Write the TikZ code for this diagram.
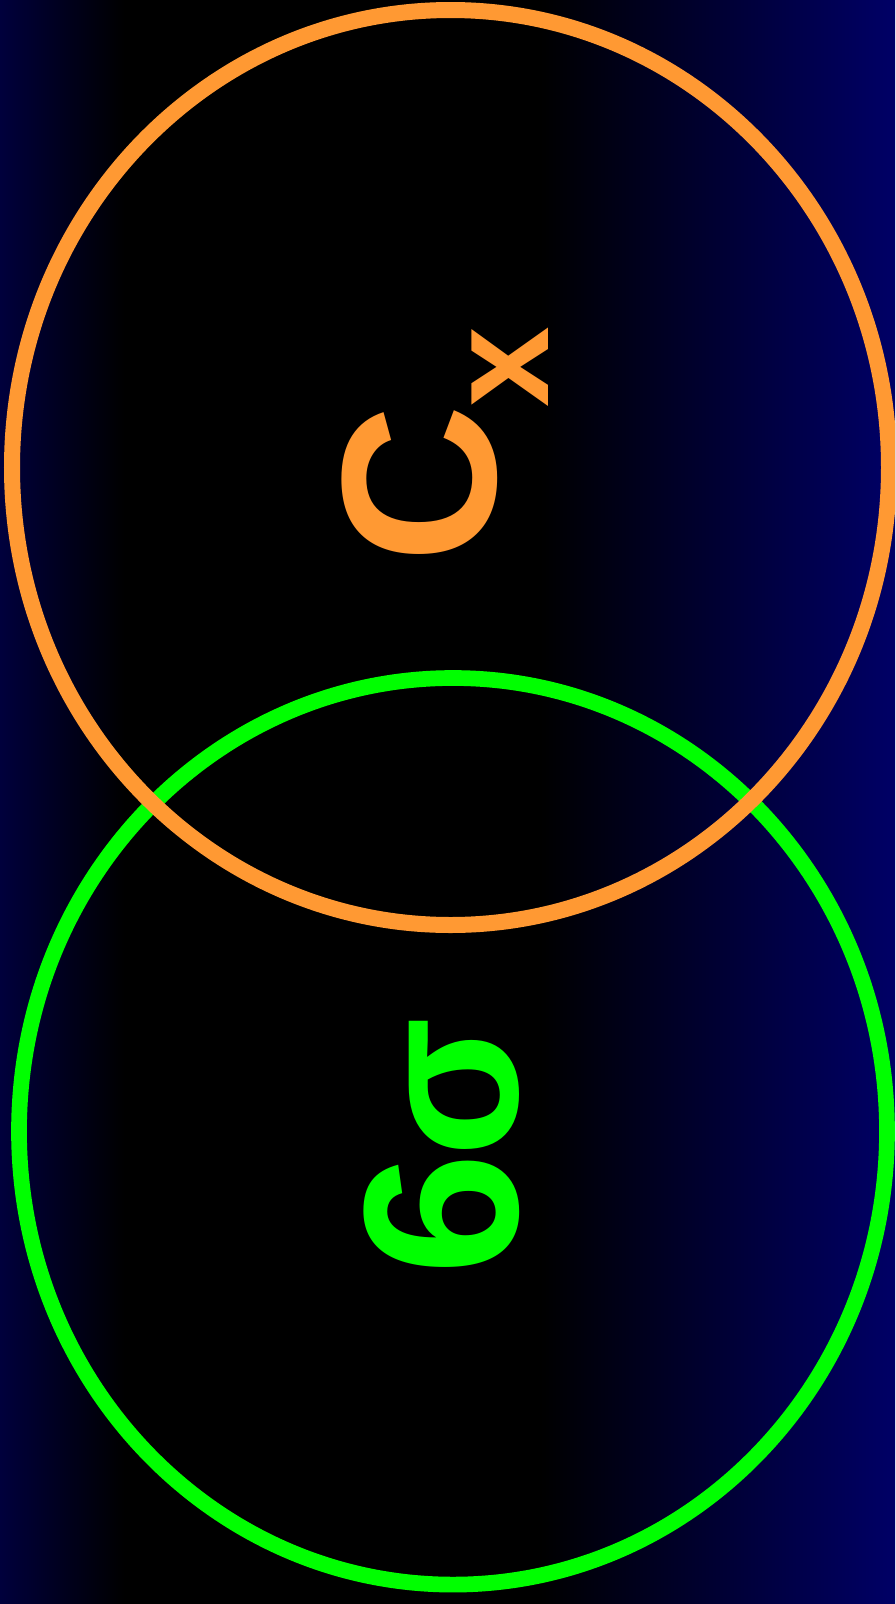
\documentclass[tikz,border=0pt]{standalone}
\usepackage{fontspec}
\setmainfont{Liberation Sans}
\definecolor{bgL}{RGB}{0,0,60}
\definecolor{bgR}{RGB}{0,0,102}
\definecolor{ringO}{RGB}{255,153,51}
\definecolor{ringG}{RGB}{0,255,0}
\tikzset{
  ringo/.style={draw=ringO, line width=16pt},
  ringg/.style={draw=ringG, line width=15.7pt},
  rtxt/.style={rotate=90, anchor=base west, inner sep=0pt}
}
\begin{document}
\begin{tikzpicture}[x=1pt,y=1pt]
\useasboundingbox (0,0) rectangle (895,-1604);
\clip (0,0) rectangle (895,-1604);
\fill[black] (0,0) rectangle (895,-1604);
\shade[left color=bgL, right color=black] (0,0) rectangle (125,-1604);
\shade[left color=black, right color=bgR] (540,0) rectangle (895,-1604);
\path[ringg] (453,-1131.3) ellipse [x radius=434, y radius=453.3];
\path[ringo] (450.5,-467.5) ellipse [x radius=438.5, y radius=457.5];
\node[rtxt, text=ringO, font=\bfseries\fontsize{220}{220}\selectfont] (c) at (495,-564) {C};
\node[rtxt, text=ringO, font=\bfseries\fontsize{145}{145}\selectfont] (cx) at (548,-408) {x};
\node[rtxt, text=ringG, font=\bfseries\fontsize{220}{220}\selectfont] (six) at (517,-1276) {6};
\node[rtxt, text=ringG, font=\bfseries\fontsize{205}{205}\selectfont] (sig) at (517,-1158) {σ};
\end{tikzpicture}
\end{document}
